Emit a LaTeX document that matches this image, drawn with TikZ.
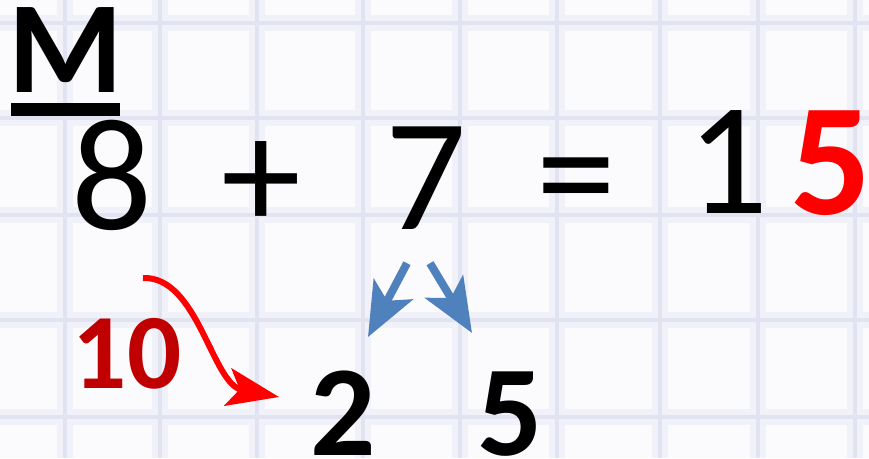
\documentclass[tikz,border=0pt]{standalone}
\usepackage{fontspec}
\setmainfont{Carlito}
\usetikzlibrary{positioning,arrows.meta,calc}
\definecolor{paper}{RGB}{251,251,254}
\definecolor{gridcolor}{RGB}{226,227,241}
\definecolor{gridsoft}{RGB}{240,241,249}
\definecolor{splitblue}{RGB}{79,129,189}
\definecolor{carryred}{RGB}{255,0,0}
\definecolor{tenred}{RGB}{192,0,0}

\begin{document}
\begin{tikzpicture}[
    x=1pt, y=-1pt,
    digit/.style={anchor=base, inner sep=0pt, font=\fontsize{160}{160}\selectfont},
    bolddigit/.style={anchor=base, inner sep=0pt, font=\fontsize{129}{129}\selectfont\bfseries},
    heading/.style={anchor=base, inner sep=0pt, font=\fontsize{131}{131}\selectfont\bfseries},
    tenlabel/.style={anchor=base, inner sep=0pt, text=tenred, font=\fontsize{107}{107}\selectfont\bfseries},
    gridline/.style={gridcolor, line width=4pt},
    gridblur/.style={gridsoft, line width=16pt},
    split/.style={-{Stealth[length=54pt, width=44pt, inset=13pt]}, splitblue, line width=8pt},
    carry/.style={-{Stealth[length=52pt, width=38pt, inset=12pt]}, carryred, line width=6pt}
]

% ===== BACKGROUND GRID =====
\useasboundingbox (0,0) rectangle (869,458);
\fill[paper] (0,0) rectangle (869,458);
\foreach \gx in {65,160,257,363,460,557,660,758,855} {
    \draw[gridblur] (\gx,0) -- (\gx,458);
}
\foreach \gy in {23,118,215,320,417} {
    \draw[gridblur] (0,\gy) -- (869,\gy);
}
\foreach \gx in {65,160,257,363,460,557,660,758,855} {
    \draw[gridline] (\gx,0) -- (\gx,458);
}
\foreach \gy in {23,118,215,320,417} {
    \draw[gridline] (0,\gy) -- (869,\gy);
}

% ===== HEADING =====
\node[heading] (mlabel) at (66,92) {M};
\fill[black] (11,103) rectangle (120,116);

% ===== SUM =====
\node[digit] (eight) at (112,229) {8};
\node[digit] (plus) at (261,229) {+};
\node[digit] (seven) at (426,229) {7};
\node[digit] (equals) at (576,226) {=};
\node[digit] (one) at (728,213) {1};
\node[bolddigit, text=carryred, font=\fontsize{160}{160}\selectfont\bfseries] (five) at (831,214) {5};

% ===== SPLIT OF 7 =====
\node[bolddigit] (two) at (343,455) {2};
\node[bolddigit] (rest) at (510,455) {5};
\coordinate (splitL) at ($(seven.south)+(-19,34)$);
\coordinate (splitR) at ($(seven.south)+(4,34)$);
\coordinate (tipL) at (368,337);
\coordinate (tipR) at (472,333);
\draw[split] (splitL) -- (tipL);
\draw[split] (splitR) -- (tipR);

% ===== MAKE TEN =====
\node[tenlabel] (ten) at (127,388) {10};
\coordinate (carryS) at (143,278);
\coordinate (carryE) at (279,397);
\draw[carry] (carryS) .. controls (198,276) and (212,384) .. (carryE);

\end{tikzpicture}
\end{document}
